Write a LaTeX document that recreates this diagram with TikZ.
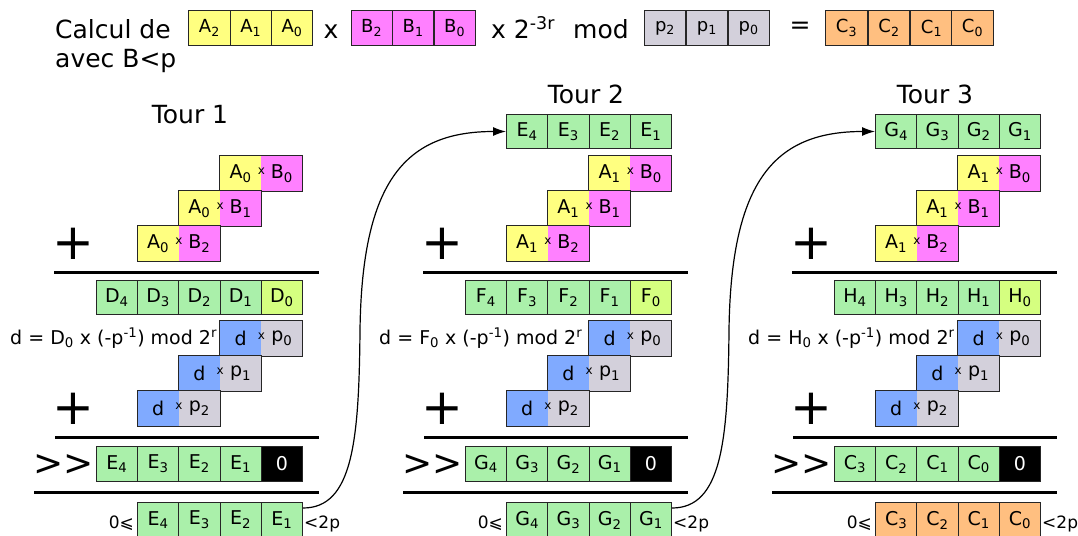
\documentclass[tikz,border=0pt]{standalone}
\usepackage{fontspec}
\setmainfont{DejaVu Sans}
\usetikzlibrary{arrows.meta}

\definecolor{colA}{HTML}{FFFF80}
\definecolor{colB}{HTML}{FF80FF}
\definecolor{colP}{HTML}{D3D0DB}
\definecolor{colC}{HTML}{FFBF80}
\definecolor{colRes}{HTML}{AAF0AA}
\definecolor{colLow}{HTML}{D5FF80}
\definecolor{colD}{HTML}{80AAFF}

\newcommand{\ix}[2]{#1\textsubscript{#2}}

\tikzset{
  cell/.style={draw=black!85, line width=1pt, minimum width=41.25pt, minimum height=34.5pt, inner sep=0pt, font=\fontsize{19}{22}\selectfont},
  head/.style={cell, minimum width=41.2pt, minimum height=35pt, font=\fontsize{18}{21}\selectfont},
  half/.style={minimum width=41.25pt, minimum height=35pt, inner sep=0pt, font=\fontsize{19}{22}\selectfont},
  frame/.style={draw=black!85, line width=1pt},
  times/.style={font=\fontsize{12}{12}\selectfont, inner sep=0pt, yshift=2pt},
  txt/.style={font=\fontsize{19}{22}\selectfont, inner sep=0pt},
  title/.style={font=\fontsize{25}{30}\selectfont, inner sep=0pt},
  plus/.style={font=\fontsize{50}{50}\selectfont, inner sep=0pt},
  shiftop/.style={font=\fontsize{36}{36}\selectfont, inner sep=0pt},
  bound/.style={font=\fontsize{17}{19}\selectfont, inner sep=0pt},
  rule/.style={line width=3pt},
  link/.style={line width=1.2pt, -{Latex[length=13pt,width=9pt]}},
}

\begin{document}
\begin{tikzpicture}[x=1pt, y=1pt]
\useasboundingbox (0,0) rectangle (1078,-535);

% header line
\node[title, anchor=base west] (calc) at (55,-38.5) {Calcul de};
\node[title, anchor=base west] (avec) at (55,-67) {avec B<p};
\node[head, fill=colA] (hA2) at (209.4,-28) {\ix{A}{2}};
\node[head, fill=colA] (hA1) at (250.7,-28) {\ix{A}{1}};
\node[head, fill=colA] (hA0) at (292,-28) {\ix{A}{0}};
\node[title, anchor=base] (mul1) at (331,-38.5) {x};
\node[head, fill=colB] (hB2) at (371.6,-28) {\ix{B}{2}};
\node[head, fill=colB] (hB1) at (413.1,-28) {\ix{B}{1}};
\node[head, fill=colB] (hB0) at (454.6,-28) {\ix{B}{0}};
\node[title, anchor=base west] (mul2) at (491,-38.5) {x 2\textsuperscript{-3r}};
\node[title, anchor=base west] (modw) at (573,-38.5) {mod};
\node[head, fill=colP] (hp2) at (665,-28) {\ix{p}{2}};
\node[head, fill=colP] (hp1) at (706.8,-28) {\ix{p}{1}};
\node[head, fill=colP] (hp0) at (748.7,-28) {\ix{p}{0}};
\node[title] (eqs) at (800,-28) {=};
\node[head, fill=colC] (hC3) at (846.5,-28) {\ix{C}{3}};
\node[head, fill=colC] (hC2) at (889,-28) {\ix{C}{2}};
\node[head, fill=colC] (hC1) at (931.5,-28) {\ix{C}{1}};
\node[head, fill=colC] (hC0) at (972.5,-28) {\ix{C}{0}};

\node[title, anchor=base] (tour1) at (190,-123.7) {Tour 1};
\node[title, anchor=base] (tour2) at (586,-103) {Tour 2};
\node[title, anchor=base] (tour3) at (935,-103) {Tour 3};

% the three rounds
\foreach \t/\dx/\pv/\a/\s/\r/\hi/\rc in {1/0/X/0/D/E/4/colRes, 2/369/E/1/F/G/4/colRes, 3/738/G/1/H/C/3/colC} {
  \begin{scope}[xshift=\dx]
    % result of the previous round
    \ifnum\t>1
      \foreach \j in {1,...,4}
        \node[cell, fill=colRes] (top\t-\j) at ({281.9-41.25*(\j-1)},-131.5) {\ix{\pv}{\j}};
    \fi
    % A x B partial products
    \foreach \k in {0,1,2} {
      \node[half, fill=colA] (a\t-\k) at ({240.6-41.25*\k},{-173.5-35*\k}) {\ix{A}{\a}};
      \node[half, fill=colB] (b\t-\k) at ({281.9-41.25*\k},{-173.5-35*\k}) {\ix{B}{\k}};
      \draw[frame] (a\t-\k.north west) rectangle (b\t-\k.south east);
      \node[times] at (a\t-\k.east) {x};
    }
    \node[plus] (plusA\t) at (73,-243.5) {+};
    \draw[rule] (54,-272) -- (319,-272);
    % sum
    \foreach \j in {1,...,4}
      \node[cell, fill=colRes] (s\t-\j) at ({281.9-41.25*\j},-297.5) {\ix{\s}{\j}};
    \node[cell, fill=colLow] (s\t-0) at (281.9,-297.5) {\ix{\s}{0}};
    \node[txt, anchor=base west] (eq\t) at (10,-344) {d = \ix{\s}{0} x (-p\textsuperscript{-1}) mod 2\textsuperscript{r}};
    % d x p partial products
    \foreach \k in {0,1,2} {
      \node[half, fill=colD] (d\t-\k) at ({240.6-41.25*\k},{-338.5-35*\k}) {d};
      \node[half, fill=colP] (p\t-\k) at ({281.9-41.25*\k},{-338.5-35*\k}) {\ix{p}{\k}};
      \draw[frame] (d\t-\k.north west) rectangle (p\t-\k.south east);
      \node[times] at (d\t-\k.east) {x};
    }
    \node[plus] (plusD\t) at (73,-408.5) {+};
    \draw[rule] (55,-437) -- (319,-437);
    % shift
    \node[shiftop] (sh\t) at (63.5,-465) {{>}{>}};
    \foreach \j [evaluate=\j as \n using int(\j+\hi-4)] in {1,...,4}
      \node[cell, fill=colRes] (e\t-\j) at ({281.9-41.25*\j},-464) {\ix{\r}{\n}};
    \node[cell, fill=black, text=white] (e\t-0) at (281.9,-464) {0};
    \draw[rule] (34,-492) -- (319,-492);
    % bounded result
    \foreach \j [evaluate=\j as \n using int(\j+\hi-4)] in {1,...,4}
      \node[cell, fill=\rc] (r\t-\j) at ({281.9-41.25*(\j-1)},-520) {\ix{\r}{\n}};
    \node[bound, anchor=base east] (lo\t) at ([xshift=-3pt,yshift=-8pt]r\t-4.west) {0⩽};
    \node[bound, anchor=base west] (hi\t) at ([xshift=1pt,yshift=-8pt]r\t-1.east) {<2p};
  \end{scope}
}

% carry the result into the next round
\coordinate (bend1) at (360,-330);
\coordinate (bend2) at (729,-330);
\draw[link] ([yshift=12pt]r1-1.east) .. controls +(50,0) and +(-1,-110) .. (bend1)
  .. controls +(2,150) and +(-100,0) .. (top2-4.west);
\draw[link] ([yshift=12pt]r2-1.east) .. controls +(50,0) and +(-1,-110) .. (bend2)
  .. controls +(2,150) and +(-100,0) .. (top3-4.west);
\end{tikzpicture}
\end{document}
